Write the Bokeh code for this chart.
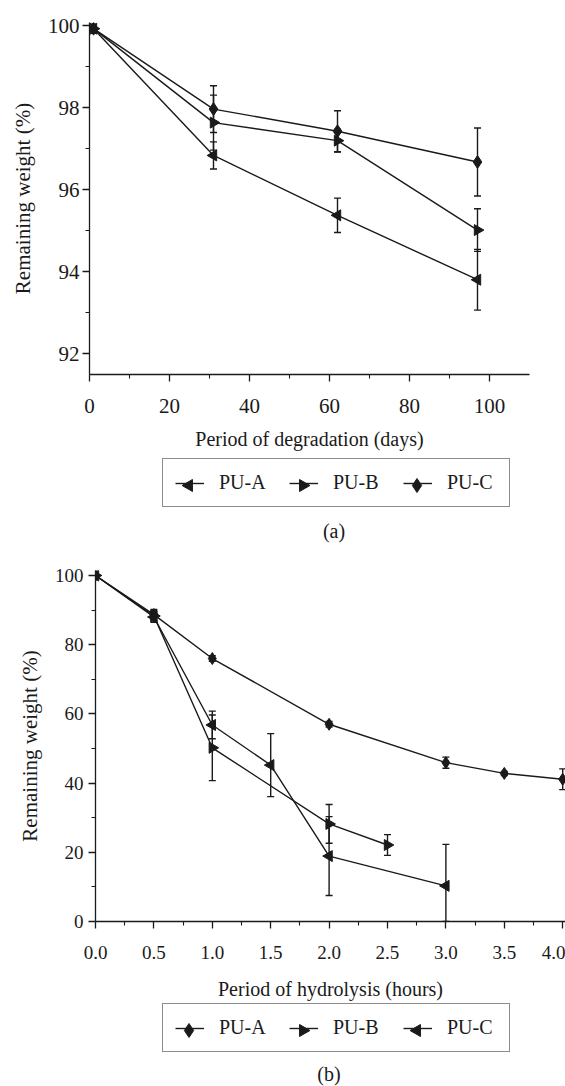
import numpy as np
from bokeh.plotting import figure
from bokeh.models import (Range1d, FixedTicker, Whisker, ColumnDataSource, Legend,
                          LegendItem, Label, TeeHead, PrintfTickFormatter)
from bokeh.layouts import column
from bokeh.embed import file_html
from bokeh.resources import INLINE

FONT = "Liberation Serif"
INK = "#1a1a1a"
W = 565

# ---------------- data (a): degradation ----------------
days = [1, 31, 62, 97]
a_pua = [99.93, 96.84, 95.38, 93.81]
a_pua_err = [0.0, 0.33, 0.42, 0.74]
a_pub = [99.93, 97.64, 97.20, 95.02]
a_pub_err = [0.0, 0.67, 0.28, 0.52]
a_puc = [99.93, 97.97, 97.43, 96.68]
a_puc_err = [0.0, 0.57, 0.50, 0.83]
a_xticks = [0, 20, 40, 60, 80, 100]
a_yticks = [92, 94, 96, 98, 100]

# ---------------- data (b): hydrolysis ----------------
b_hours_a = [0.0, 0.5, 1.0, 2.0, 3.0, 3.5, 4.0]
b_pua = [100.0, 88.7, 76.0, 57.0, 45.9, 42.8, 41.1]
b_pua_err = [0.0, 1.5, 0.8, 0.8, 1.6, 0.6, 3.0]
b_hours_b = [0.0, 0.5, 1.0, 2.0, 2.5]
b_pub = [100.0, 88.3, 50.2, 28.2, 22.1]
b_pub_err = [0.0, 1.5, 9.5, 5.6, 3.0]
b_hours_c = [0.0, 0.5, 1.0, 1.5, 2.0, 3.0]
b_puc = [100.0, 88.0, 56.8, 45.2, 18.9, 10.3]
b_puc_err = [0.0, 1.5, 4.0, 9.1, 11.4, 12.0]
b_xticks = [0.0, 0.5, 1.0, 1.5, 2.0, 2.5, 3.0, 3.5, 4.0]
b_yticks = [0, 20, 40, 60, 80, 100]

series_names = ["PU-A", "PU-B", "PU-C"]

LEFT = np.pi / 2
RIGHT = -np.pi / 2


def style_axes(p, tick_size, xlab_size, ylab_size, x_standoff, y_standoff, xl_standoff, yl_standoff):
    for ax in (p.xaxis[0], p.yaxis[0]):
        ax.axis_line_color = INK
        ax.axis_line_width = 1.3
        ax.major_tick_line_color = INK
        ax.major_tick_line_width = 1.3
        ax.minor_tick_line_color = INK
        ax.minor_tick_line_width = 1.1
        ax.major_tick_in = 0
        ax.major_tick_out = 7
        ax.minor_tick_in = 0
        ax.minor_tick_out = 4
        ax.major_label_text_font = FONT
        ax.major_label_text_font_size = tick_size
        ax.major_label_text_color = INK
        ax.axis_label_text_font = FONT
        ax.axis_label_text_font_style = "normal"
        ax.axis_label_text_color = INK
    p.xaxis[0].axis_label_text_font_size = xlab_size
    p.yaxis[0].axis_label_text_font_size = ylab_size
    p.xaxis[0].major_label_standoff = x_standoff
    p.yaxis[0].major_label_standoff = y_standoff
    p.xaxis[0].axis_label_standoff = xl_standoff
    p.yaxis[0].axis_label_standoff = yl_standoff
    p.xgrid.visible = False
    p.ygrid.visible = False
    p.outline_line_color = None
    p.background_fill_color = "white"
    p.border_fill_color = "white"


def add_series(p, x, y, err, marker, angle, size):
    src = ColumnDataSource(dict(x=x, y=y,
                                upper=[v + e for v, e in zip(y, err)],
                                lower=[max(0.0, v - e) for v, e in zip(y, err)]))
    p.line("x", "y", source=src, line_color=INK, line_width=1.4)
    w = Whisker(base="x", upper="upper", lower="lower", source=src, dimension="height",
                line_color=INK, line_width=1.4,
                upper_head=TeeHead(size=7, line_color=INK, line_width=1.4),
                lower_head=TeeHead(size=7, line_color=INK, line_width=1.4))
    p.add_layout(w)
    p.scatter("x", "y", source=src, marker=marker, angle=angle, size=size,
              fill_color=INK, line_color=INK)


# legend geometry (screen pixels)
PAD = 12
GW = 29
GH = 20
STAND = 15
LABW = 50
SPACE = 20


def legend_fig(h, spec, loc, caption, cap_x, cap_y):
    f = figure(width=W, height=h, x_range=Range1d(0, W), y_range=Range1d(0, h),
               output_backend="svg", toolbar_location=None, min_border=0,
               x_axis_location=None, y_axis_location=None, frame_align=False)
    f.grid.visible = False
    f.outline_line_color = None
    f.background_fill_color = "white"
    f.border_fill_color = "white"
    items = []
    mx, my, mk, ma, ms = [], [], [], [], []
    for k, (name, marker, angle, size) in enumerate(spec):
        l = f.line([-60, -40], [-60, -60], line_color=INK, line_width=1.4)
        items.append(LegendItem(label=name, renderers=[l]))
        mx.append(loc[0] + PAD + k * (GW + STAND + LABW + SPACE) + GW / 2)
        my.append(loc[1] + PAD + GH / 2)
        mk.append(marker)
        ma.append(angle)
        ms.append(size)
    f.scatter(x=mx, y=my, marker=mk, angle=ma, size=ms, fill_color=INK, line_color=INK)
    leg = Legend(items=items, location=loc, orientation="horizontal",
                 label_text_font=FONT, label_text_font_size="20px", label_text_color=INK,
                 glyph_width=GW, glyph_height=GH, label_height=GH, label_width=LABW,
                 label_standoff=STAND, spacing=SPACE, padding=PAD, margin=0,
                 border_line_color=INK, border_line_width=1.3,
                 background_fill_alpha=0.0)
    f.add_layout(leg)
    f.add_layout(Label(x=cap_x, y=cap_y, text=caption, text_font=FONT, text_font_size="20px",
                       text_color=INK, text_align="center", text_baseline="middle"))
    return f


# ---------------- figure (a) ----------------
pA = figure(width=W, height=452, x_range=Range1d(0, 110), y_range=Range1d(91.5, 100.08),
            output_backend="svg", toolbar_location=None, frame_align=False,
            min_border_left=89, min_border_right=36, min_border_top=22, min_border_bottom=76,
            x_axis_label="Period of degradation (days)", y_axis_label="Remaining weight (%)")
pA.xaxis.ticker = FixedTicker(ticks=a_xticks, minor_ticks=[10, 30, 50, 70, 90])
pA.yaxis.ticker = FixedTicker(ticks=a_yticks, minor_ticks=[93, 95, 97, 99])
style_axes(pA, "21px", "20px", "21px", 17, 3, 12, 10)
add_series(pA, days, a_pua, a_pua_err, "triangle", LEFT, 11)
add_series(pA, days, a_pub, a_pub_err, "triangle", RIGHT, 11)
add_series(pA, days, a_puc, a_puc_err, "diamond", 0.0, 13)

legA = legend_fig(93, [("PU-A", "triangle", LEFT, 12), ("PU-B", "triangle", RIGHT, 12),
                       ("PU-C", "diamond", 0.0, 14)], (162, 38), "(a)", 333.5, 15)

# ---------------- figure (b) ----------------
pB = figure(width=W, height=457, x_range=Range1d(0, 4.024), y_range=Range1d(0, 101.44),
            output_backend="svg", toolbar_location=None, frame_align=False,
            min_border_left=95, min_border_right=0, min_border_top=25, min_border_bottom=80,
            x_axis_label="Period of hydrolysis (hours)", y_axis_label="Remaining weight (%)")
pB.xaxis.ticker = FixedTicker(ticks=b_xticks,
                              minor_ticks=[0.25, 0.75, 1.25, 1.75, 2.25, 2.75, 3.25, 3.75])
pB.yaxis.ticker = FixedTicker(ticks=b_yticks, minor_ticks=[10, 30, 50, 70, 90])
pB.xaxis.formatter = PrintfTickFormatter(format="%.1f")
style_axes(pB, "19px", "20px", "21px", 17, 5, 16, 10)
add_series(pB, b_hours_a, b_pua, b_pua_err, "diamond", 0.0, 12)
add_series(pB, b_hours_b, b_pub, b_pub_err, "triangle", RIGHT, 11)
add_series(pB, b_hours_c, b_puc, b_puc_err, "triangle", LEFT, 11)

legB = legend_fig(84, [("PU-A", "diamond", 0.0, 14), ("PU-B", "triangle", RIGHT, 12),
                       ("PU-C", "triangle", LEFT, 12)], (162, 34), "(b)", 328.5, 13)

layout = column(pA, legA, pB, legB, spacing=0)
open("out.html", "w").write(file_html(layout, INLINE))
